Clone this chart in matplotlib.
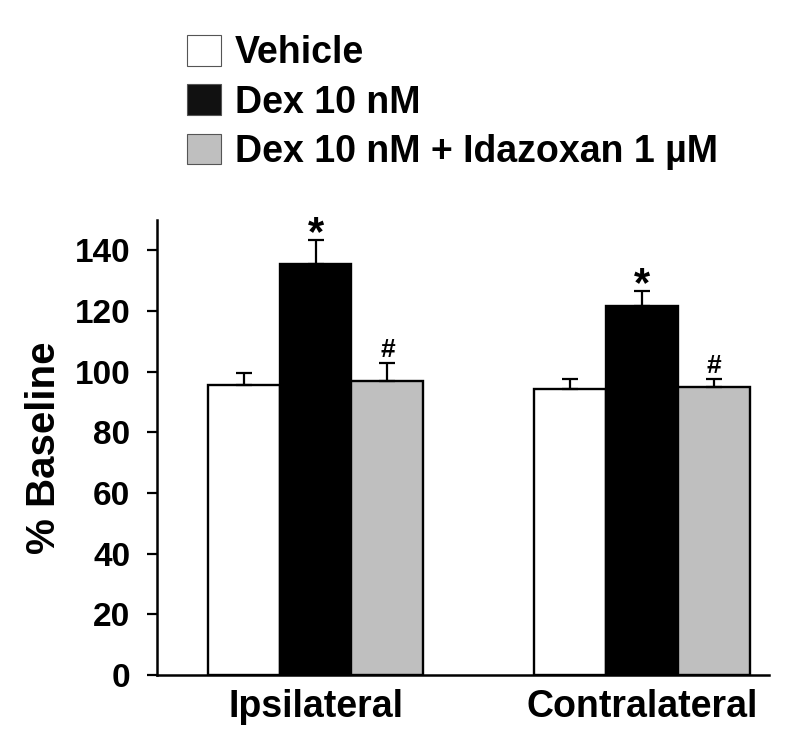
import matplotlib
matplotlib.use("Agg")
import matplotlib.pyplot as plt
from matplotlib.patches import Patch
import numpy as np

plt.rcParams['font.family'] = ['Liberation Sans', 'DejaVu Sans']
plt.rcParams['font.weight'] = 'bold'

groups = ["Ipsilateral", "Contralateral"]
series = ["Vehicle", "Dex 10 nM", "Dex 10 nM + Idazoxan 1 µM"]
vehicle = [95.7, 94.4]
vehicle_err = [4.0, 3.3]
dex = [135.6, 121.8]
dex_err = [7.7, 4.7]
idaz = [97.0, 94.9]
idaz_err = [5.9, 2.8]
dex_marks = ["*", "*"]
idaz_marks = ["#", "#"]
yticks = [0, 20, 40, 60, 80, 100, 120, 140]

colors = ["white", "black", "#bfbfbf"]
legend_colors = ["white", "#111111", "#bfbfbf"]

fig = plt.figure(figsize=(8, 7.42), dpi=100)
ax = fig.add_axes([157/800, 1-675/742, (769-157)/800, (675-220)/742])

x = np.arange(len(groups))
w = 0.22
vals = [vehicle, dex, idaz]
errs = [vehicle_err, dex_err, idaz_err]
for i, (v, e, c) in enumerate(zip(vals, errs, colors)):
    pos = x + (i - 1) * w
    ax.bar(pos, v, width=w, color=c, edgecolor='black', linewidth=1.7, zorder=2)
    ax.errorbar(pos, v, yerr=[np.zeros(len(v)), e], fmt='none', ecolor='black',
                elinewidth=1.6, capsize=5.5, capthick=1.6, zorder=3)

for j in range(len(groups)):
    ax.text(x[j], dex[j] + dex_err[j] - 1.5, dex_marks[j], ha='center', va='baseline',
            fontsize=30, fontweight='bold')
    ax.text(x[j] + w, idaz[j] + idaz_err[j] + 2.0, idaz_marks[j], ha='center', va='baseline',
            fontsize=19, fontweight='bold')

ax.set_xlim(-0.4855, 1.389)
ax.set_ylim(0, 150)
ax.set_yticks(yticks)
ax.set_yticklabels([str(t) for t in yticks], fontsize=24, fontweight='bold')
ax.set_xticks(x)
ax.set_xticklabels(groups, fontsize=27, fontweight='bold')
ax.tick_params(axis='y', direction='out', length=7.2, width=1.6, pad=12)
ax.tick_params(axis='x', length=0, pad=10)
for s in ['top', 'right']:
    ax.spines[s].set_visible(False)
for s in ['left', 'bottom']:
    ax.spines[s].set_linewidth(1.8)
ax.set_ylabel("% Baseline", fontsize=29, fontweight='bold', labelpad=8)

handles = [Patch(facecolor=c, edgecolor='#555555', linewidth=0.8) for c in legend_colors]
ax.legend(handles, series, loc='upper left', bbox_to_anchor=(187/800, 1-35/742),
          bbox_transform=fig.transFigure, frameon=False,
          prop={'size': 27, 'weight': 'bold'}, handlelength=0.9, handleheight=0.88,
          handletextpad=0.37, labelspacing=0.35, borderpad=0, borderaxespad=0)

fig.savefig("out.png", dpi=100)
